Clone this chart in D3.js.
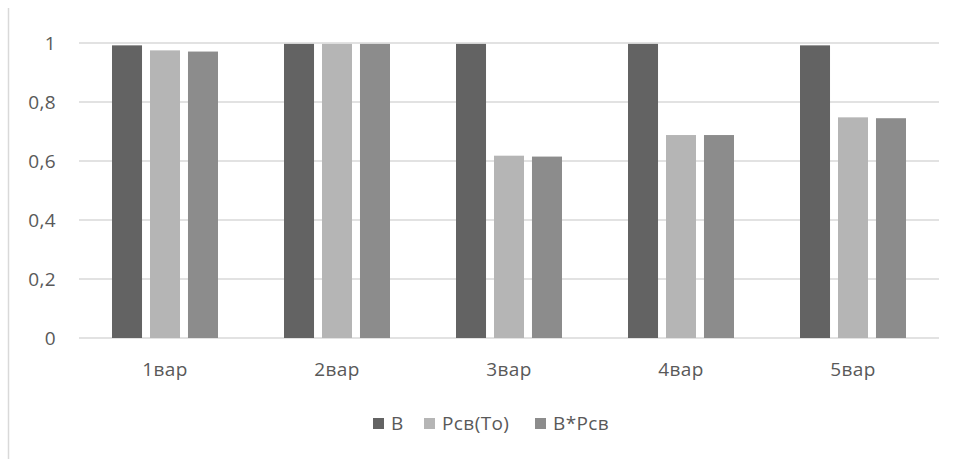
<!DOCTYPE html>
<html><head><meta charset="utf-8">
<script src="https://cdn.jsdelivr.net/npm/d3@7"></script>
<style>body{margin:0;background:#fff}svg{display:block}text{font-family:"Open Sans",sans-serif;fill:#595959}</style>
</head><body><svg id="c" width="956" height="459"></svg>
<script>
const categories = ["1вар","2вар","3вар","4вар","5вар"];
const seriesNames = ["В","Рсв(То)","В*Рсв"];
const valuesB = [0.992,0.997,0.997,0.997,0.992];
const valuesP = [0.975,0.997,0.618,0.688,0.748];
const valuesBP = [0.971,0.997,0.615,0.688,0.745];
const yTicks = [0,0.2,0.4,0.6,0.8,1];
const colors = ["#636363","#b5b5b5","#8c8c8c"];
const series = [valuesB, valuesP, valuesBP];

const FS = 19, LS = "0.4px";
const svg = d3.select("#c");
const L = 79, R = 939, T = 43, B = 338;
const x = d3.scaleBand().domain(categories).range([L,R]);
const y = d3.scaleLinear().domain([0,1]).range([B,T]);
const inner = d3.scaleBand().domain(d3.range(3)).range([0,106]).paddingInner(0.21);

// left border
svg.append("line").attr("x1",8.5).attr("x2",8.5).attr("y1",8).attr("y2",459).attr("stroke","#d9d9d9").attr("stroke-width",1.5);

// gridlines
svg.append("g").selectAll("line").data(yTicks).join("line")
  .attr("x1",L).attr("x2",R).attr("y1",d=>y(d)).attr("y2",d=>y(d))
  .attr("stroke","#d9d9d9").attr("stroke-width",1.5);

// y axis labels
const yAxis = d3.axisLeft(y).tickValues(yTicks).tickSize(0).tickPadding(0)
  .tickFormat(d=>String(d).replace(".",","));
const ya = svg.append("g").attr("transform","translate(56,0)").call(yAxis);
ya.select(".domain").remove();
ya.selectAll("text").attr("font-size",FS).attr("letter-spacing",LS).attr("font-family","Open Sans, sans-serif").attr("fill","#595959");

// bars
series.forEach((vals,si)=>{
  svg.append("g").selectAll("rect").data(vals).join("rect")
    .attr("x",(d,i)=>x(categories[i]) + x.bandwidth()/2 - 53 + inner(si))
    .attr("width",inner.bandwidth())
    .attr("y",d=>y(d)).attr("height",d=>B-y(d))
    .attr("fill",colors[si]);
});

// x axis labels
const xAxis = d3.axisBottom(x).tickSize(0).tickPadding(0);
const xa = svg.append("g").attr("transform","translate(0,362)").call(xAxis);
xa.select(".domain").remove();
xa.selectAll("text").attr("font-size",FS).attr("letter-spacing",LS).attr("font-family","Open Sans, sans-serif").attr("fill","#595959");

// legend
const legendX = [373, 424, 535];
const lg = svg.append("g");
seriesNames.forEach((n,i)=>{
  lg.append("rect").attr("x",legendX[i]).attr("y",418).attr("width",11).attr("height",11).attr("fill",colors[i]);
  lg.append("text").attr("x",legendX[i]+18).attr("y",430).attr("font-size",FS).attr("letter-spacing",LS).text(n);
});
</script></body></html>
